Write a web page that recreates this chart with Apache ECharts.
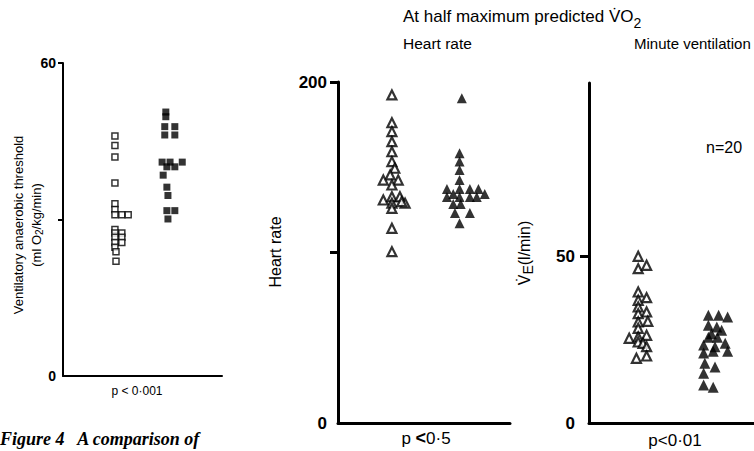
<!DOCTYPE html>
<html>
<head>
<meta charset="utf-8">
<script src="https://cdn.jsdelivr.net/npm/echarts@6/dist/echarts.min.js"></script>
<style>
  html, body { margin: 0; background: #fff; }
  #chart { width: 754px; height: 451px; }
</style>
</head>
<body>
<div id="chart"></div>
<script>
// [column position, value]
// ventilatory anaerobic threshold (ml O2/kg/min)
const vatOpen = [
  [0.98, 46.0], [0.98, 44.2], [0.98, 42.0], [0.98, 37.0], [0.98, 33.0], [0.98, 31.9],
  [0.98, 30.9], [1.11, 30.9], [1.23, 30.9], [0.98, 28.1], [0.98, 27.4], [1.11, 27.4],
  [0.98, 26.6], [1.11, 26.6], [0.98, 25.6], [1.11, 25.6], [0.98, 24.7], [1.0, 23.8],
  [1.0, 22.0]
];
const vatFilled = [
  [1.94, 50.6], [1.94, 49.7], [1.92, 47.8], [2.11, 47.8], [1.92, 46.2], [2.11, 46.2],
  [1.87, 41.0], [2.02, 41.0], [2.25, 41.0], [1.96, 40.1], [2.11, 40.1], [1.89, 38.5],
  [1.96, 36.2], [1.98, 34.6], [1.96, 31.7], [2.11, 31.7], [1.98, 30.1]
];
// heart rate (beats/min)
const hrOpen = [
  [0.94, 192.4], [0.94, 176.1], [0.94, 170.9], [0.94, 165.0], [0.94, 159.1], [0.94, 153.3],
  [0.99, 149.4], [0.91, 145.5], [0.79, 142.5], [1.05, 142.5], [0.94, 139.6], [0.79, 130.8],
  [0.94, 132.7], [1.08, 132.7], [0.94, 128.9], [1.17, 128.9], [1.11, 129.8], [0.94, 125.9],
  [0.94, 114.2], [0.94, 100.5]
];
const hrFilled = [
  [2.16, 190.4], [2.12, 158.2], [2.12, 153.3], [2.12, 148.4], [2.12, 142.5],
  [1.90, 137.2], [2.12, 137.2], [2.30, 137.2], [2.45, 137.2], [2.01, 134.3], [2.56, 134.3],
  [1.90, 132.6], [2.12, 132.6], [2.30, 132.6], [2.42, 132.6], [2.01, 128.4], [2.14, 128.4],
  [2.04, 123.2], [2.30, 123.2], [2.12, 117.1]
];
// minute ventilation (l/min)
const veOpen = [
  [0.82, 50.0], [0.82, 46.3], [0.96, 47.3], [0.82, 39.3], [0.96, 37.6], [0.82, 36.8],
  [0.82, 34.8], [0.96, 33.3], [0.82, 32.8], [0.98, 30.5], [0.82, 30.3], [0.82, 28.4],
  [0.96, 26.3], [0.67, 25.4], [0.82, 25.8], [0.82, 24.3], [0.90, 23.9], [0.96, 22.9],
  [0.79, 19.4], [0.96, 20.1]
];
const veFilled = [
  [1.99, 32.3], [2.16, 32.3], [2.31, 31.8], [1.99, 29.3], [2.13, 28.8], [1.99, 25.7],
  [2.14, 25.7], [2.27, 23.9], [1.91, 23.4], [2.10, 22.9], [2.31, 21.5], [1.91, 21.0],
  [2.07, 21.5], [1.93, 17.9], [2.10, 16.8], [1.91, 14.9], [1.91, 11.4], [2.07, 10.7],
  [2.04, 26.8], [2.21, 27.8]
];
// labelled values and tick marks on each y axis
const vatLabels = [0, 60];
const vatTicks = [30, 60];
const hrLabels = [0, 200];
const hrTicks = [100, 200];
const veLabels = [0, 50];
const veTicks = [50];

const font = '"Liberation Sans", Arial, sans-serif';
const chart = echarts.init(document.getElementById('chart'), null, { renderer: 'svg' });

const xAx = (gridIndex, lw) => ({
  type: 'value', gridIndex, min: 0, max: 3,
  axisLine: { show: true, onZero: false, lineStyle: { color: '#000', width: lw } },
  axisTick: { show: false }, axisLabel: { show: false }, splitLine: { show: false }
});

const yAx = (gridIndex, max, labels, ticks, lw, fs, margin, tickLen) => ({
  type: 'value', gridIndex, min: 0, max,
  axisLine: { show: true, lineStyle: { color: '#000', width: lw } },
  axisTick: { show: true, length: tickLen, customValues: ticks, lineStyle: { color: '#000', width: lw } },
  axisLabel: { customValues: labels, color: '#000', fontWeight: 'bold', fontSize: fs, margin, fontFamily: font },
  splitLine: { show: false }
});

const dots = (i, data, symbol, size, filled, bw) => ({
  type: 'scatter', xAxisIndex: i, yAxisIndex: i, data, symbol, symbolSize: size,
  itemStyle: filled ? { color: '#000' } : { color: '#fff', borderColor: '#000', borderWidth: bw },
  emphasis: { disabled: true }, silent: true
});

const txt = (x, y, text, opts) => ({
  type: 'text', x, y, silent: true,
  style: Object.assign({ text, fill: '#000', font: '15px ' + font, align: 'left', verticalAlign: 'middle' }, opts || {})
});

const option = {
  animation: false,
  grid: [
    { left: 63, top: 63, width: 159, height: 313, containLabel: false, outerBoundsMode: 'none' },
    { left: 338, top: 82, width: 172, height: 341, containLabel: false, outerBoundsMode: 'none' },
    { left: 589, top: 83, width: 180, height: 340, containLabel: false, outerBoundsMode: 'none' }
  ],
  xAxis: [xAx(0, 2), xAx(1, 3), xAx(2, 3)],
  yAxis: [
    yAx(0, 60, vatLabels, vatTicks, 2, 14, 7, 5),
    yAx(1, 200, hrLabels, hrTicks, 3, 17, 11, 8),
    yAx(2, 102, veLabels, veTicks, 3, 17, 14, 9)
  ],
  series: [
    dots(0, vatOpen, 'rect', 6, false, 1.5),
    dots(0, vatFilled, 'rect', 7, true),
    dots(1, hrOpen, 'triangle', 9, false, 2.2),
    dots(1, hrFilled, 'triangle', 10, true),
    dots(2, veOpen, 'triangle', 9, false, 2.2),
    dots(2, veFilled, 'triangle', 11, true)
  ],
  graphic: [
    txt(403, 18, '{a|At half maximum predicted V\u0307O}{s|2}', {
      rich: { a: { fontSize: 17, fontFamily: font, padding: [0, 0, 4, 0] }, s: { fontSize: 14, fontFamily: font, padding: [9, 0, 0, 0] } }
    }),
    txt(403, 43, 'Heart rate', { font: '15.5px ' + font }),
    txt(634, 43, 'Minute ventilation', { font: '15px ' + font }),
    txt(706, 147, 'n=20', { font: '16px ' + font }),
    {
      type: 'text', x: 27, y: 225, rotation: Math.PI / 2, silent: true,
      style: {
        text: 'Ventilatory anaerobic threshold\n{a|(ml O}{s|2}{a|/kg/min)}',
        font: '13px ' + font, fill: '#000', align: 'center', verticalAlign: 'middle', lineHeight: 18,
        rich: { a: { fontSize: 13, fontFamily: font }, s: { fontSize: 10, fontFamily: font, padding: [6, 0, 0, 0] } }
      }
    },
    {
      type: 'text', x: 275, y: 252, rotation: Math.PI / 2, silent: true,
      style: { text: 'Heart rate', font: '16px ' + font, fill: '#000', align: 'center', verticalAlign: 'middle' }
    },
    {
      type: 'text', x: 524, y: 253, rotation: Math.PI / 2, silent: true,
      style: {
        text: '{a|V\u0307}{s|E}{a|(l/min)}', fill: '#000', align: 'center', verticalAlign: 'middle',
        rich: { a: { fontSize: 16, fontFamily: font }, s: { fontSize: 14, fontFamily: font, padding: [8, 0, 0, 0] } }
      }
    },
    txt(137, 391, 'p < 0\u00b7001', { font: '12px ' + font, align: 'center' }),
    txt(426, 438, '{a|p }{b|<}{a|0\u00b75}', {
      align: 'center',
      rich: { a: { fontSize: 17, fontFamily: font }, b: { fontSize: 18, fontWeight: 'bold', fontFamily: font } }
    }),
    txt(675, 440, 'p<0\u00b701', { font: '17px ' + font, align: 'center' }),
    txt(0, 430, 'Figure 4   A comparison of', {
      font: 'italic bold 18px "Liberation Serif", "Times New Roman", serif', verticalAlign: 'top'
    })
  ]
};

chart.setOption(option);
</script>
</body>
</html>
